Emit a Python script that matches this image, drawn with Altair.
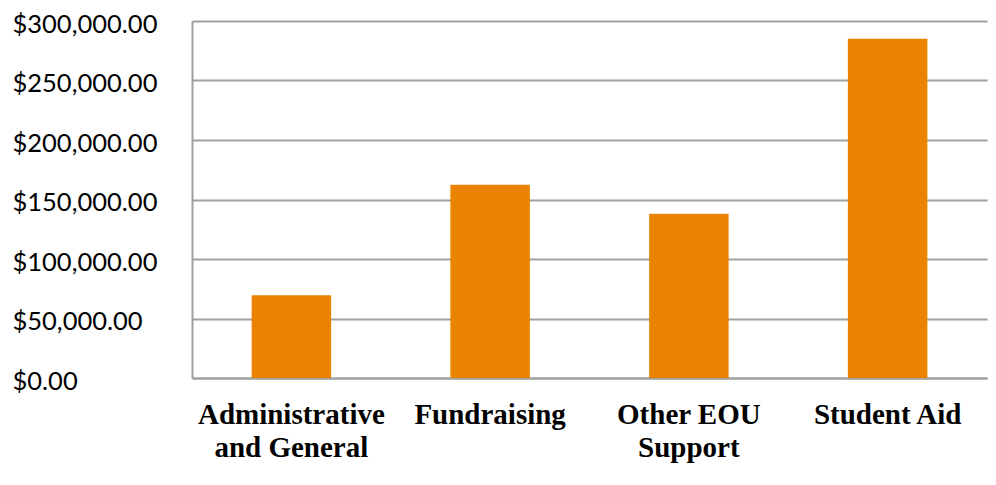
import altair as alt
import pandas as pd

categories = ["Administrative and General", "Fundraising", "Other EOU Support", "Student Aid"]
label_lines = [["Administrative", "and General"], ["Fundraising"], ["Other EOU", "Support"], ["Student Aid"]]
values = [69500, 162500, 138000, 285000]
y_ticks = [0, 50000, 100000, 150000, 200000, 250000, 300000]

df = pd.DataFrame({"category": categories, "value": values})

parts = []
for cat, lines in zip(categories, label_lines):
    arr = "[" + ", ".join("'" + l + "'" for l in lines) + "]"
    parts.append(f"datum.value == '{cat}' ? {arr} : ")
label_expr = "".join(parts) + "datum.value"

chart = alt.Chart(df).mark_bar(color="#E98300").encode(
    x=alt.X("category:N", sort=categories,
            scale=alt.Scale(paddingInner=0.6, paddingOuter=0.3),
            axis=alt.Axis(title=None, labelAngle=0, labelExpr=label_expr,
                          labelFont="Liberation Serif", labelFontWeight="bold",
                          labelFontSize=29, labelColor="#000000", labelLineHeight=33,
                          labelPadding=22, labelLimit=400, ticks=False,
                          domainColor="#A0A0A0", domainWidth=2, labelBaseline="top")),
    y=alt.Y("value:Q", scale=alt.Scale(domain=[0, 300000], nice=False),
            axis=alt.Axis(title=None, values=y_ticks, format="$,.2f",
                          labelFont="Lato", labelFontSize=25.5, labelColor="#000000",
                          labelAlign="left", labelPadding=180, labelOffset=3,
                          labelLimit=400, ticks=False, gridColor="#A0A0A0", gridWidth=2,
                          domainColor="#A0A0A0", domainWidth=2)),
).properties(
    width=795, height=357,
    autosize=alt.AutoSizeParams(type="none"),
    padding={"left": 184, "top": 13, "right": 1, "bottom": 99},
).configure_view(stroke=None)

chart.save("out.html", embed_options={"renderer": "svg", "actions": False})
